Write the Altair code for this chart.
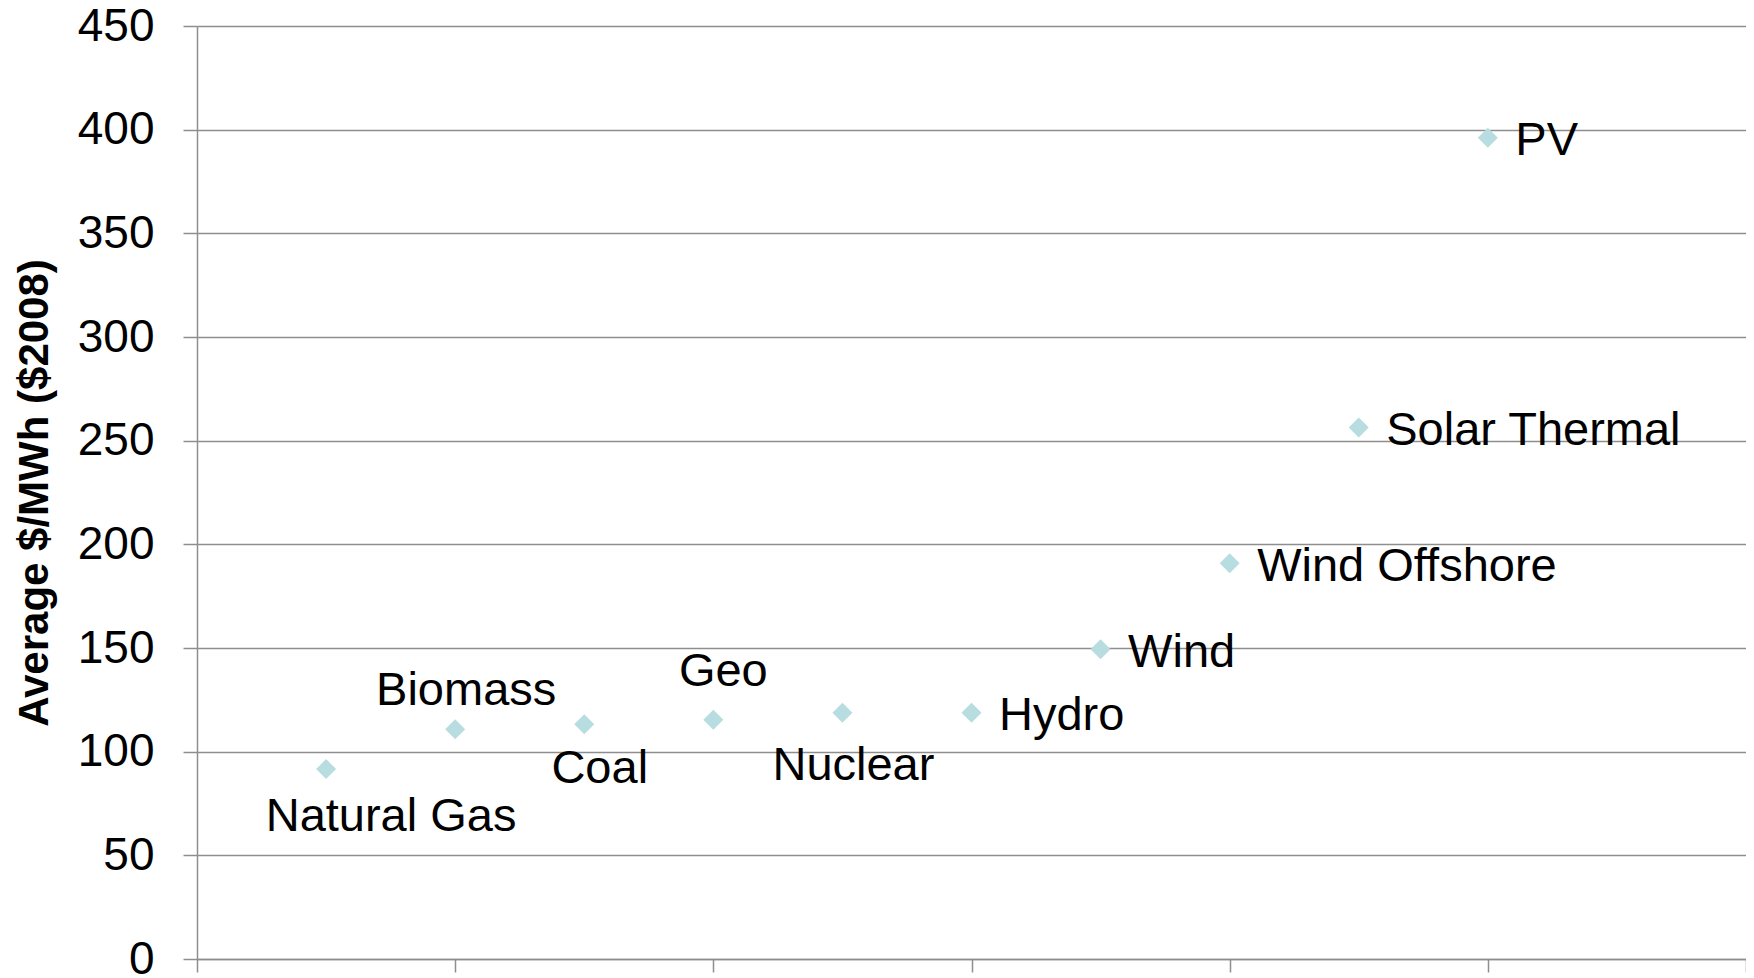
import altair as alt
import pandas as pd

# ---- data ----
technologies = ["Natural Gas", "Biomass", "Coal", "Geo", "Nuclear",
                "Hydro", "Wind", "Wind Offshore", "Solar Thermal", "PV"]
order = [1, 2, 3, 4, 5, 6, 7, 8, 9, 10]
cost = [91.6, 110.8, 113.2, 115.4, 118.8, 118.8, 149.4, 190.9, 256.4, 396.1]
y_ticks = [0, 50, 100, 150, 200, 250, 300, 350, 400, 450]
x_ticks = [0, 2, 4, 6, 8, 10, 12]

df = pd.DataFrame({"tech": technologies, "x": order, "cost": cost})

FONT = "Liberation Sans"
GRID = "#8e8e8e"

x_enc = alt.X("x:Q", scale=alt.Scale(domain=[0, 12], nice=False),
              axis=alt.Axis(values=x_ticks, labels=False, grid=False, title=None,
                            domainColor=GRID, domainWidth=1.5, tickColor=GRID,
                            tickWidth=1.5, tickSize=13))
y_enc = alt.Y("cost:Q", scale=alt.Scale(domain=[0, 450], nice=False),
              axis=alt.Axis(values=y_ticks, grid=True, gridColor=GRID, gridWidth=1.5,
                            domainColor=GRID, domainWidth=1.5, tickColor=GRID,
                            tickWidth=1.5, tickSize=14, labelPadding=29,
                            labelFont=FONT, labelFontSize=46, labelColor="black",
                            title="Average $/MWh ($2008)", titleFont=FONT,
                            titleFontSize=42, titleFontWeight="bold",
                            titleColor="black", titleX=-150, titleY=466.5,
                            titleBaseline="alphabetic", titleAlign="center"))

base = alt.Chart(df).encode(x=x_enc, y=y_enc)

points = base.mark_point(shape="diamond", filled=True, size=400,
                         color="#b7dde1", opacity=1)

# label placement styles (align, dx, dy) per technology
label_styles = {
    "Natural Gas": ("center", 65, 62),
    "Biomass": ("center", 11, -24),
    "Coal": ("center", 15.5, 59),
    "Geo": ("center", 10, -33.5),
    "Nuclear": ("center", 11, 67.5),
}
right_labels = ["Hydro", "Wind", "Wind Offshore", "Solar Thermal", "PV"]

layers = [points]
for name, (align, dx, dy) in label_styles.items():
    layers.append(
        base.transform_filter(alt.datum.tech == name)
        .mark_text(align=align, baseline="alphabetic", dx=dx, dy=dy,
                   font=FONT, fontSize=47, color="black")
        .encode(text="tech:N")
    )
layers.append(
    base.transform_filter(alt.FieldOneOfPredicate(field="tech", oneOf=right_labels))
    .mark_text(align="left", baseline="alphabetic", dx=27.5, dy=17.5,
               font=FONT, fontSize=47, color="black")
    .encode(text="tech:N")
)

chart = alt.layer(*layers).properties(
    width=1549, height=933,
    autosize=alt.AutoSizeParams(type="none"),
    padding={"left": 189, "top": 18, "right": 0, "bottom": 20},
    background="white",
).configure_view(stroke=None)

chart.save("out.html", embed_options={"renderer": "svg", "actions": False})
